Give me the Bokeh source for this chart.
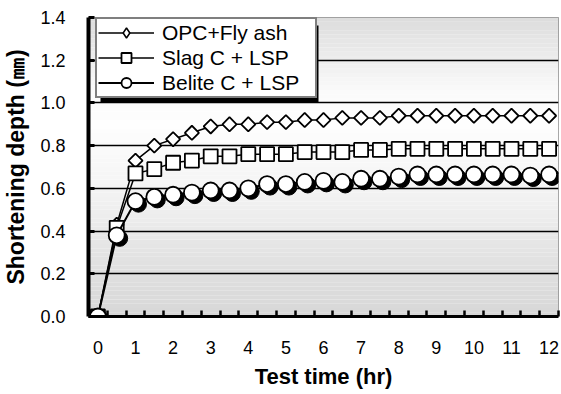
import numpy as np
from bokeh.plotting import figure
from bokeh.models import Range1d, FixedTicker, Legend, LegendItem, BoxAnnotation, ColumnDataSource
from bokeh.embed import file_html
from bokeh.resources import INLINE

# ---------------- data ----------------
time_hr = [0, 0.5, 1, 1.5, 2, 2.5, 3, 3.5, 4, 4.5, 5, 5.5, 6, 6.5, 7, 7.5, 8,
           8.5, 9, 9.5, 10, 10.5, 11, 11.5, 12]
opc_fly_ash = [0, 0.43, 0.73, 0.80, 0.83, 0.86, 0.89, 0.90, 0.90, 0.91, 0.91, 0.92, 0.92,
               0.93, 0.93, 0.93, 0.94, 0.94, 0.94, 0.94, 0.94, 0.94, 0.94, 0.94, 0.94]
slag_lsp = [0, 0.415, 0.67, 0.69, 0.72, 0.73, 0.75, 0.75, 0.76, 0.76, 0.76, 0.77, 0.77,
            0.77, 0.78, 0.78, 0.785, 0.785, 0.785, 0.785, 0.785, 0.785, 0.785, 0.785, 0.785]
belite_lsp = [0, 0.38, 0.54, 0.56, 0.57, 0.58, 0.59, 0.59, 0.60, 0.62, 0.62, 0.63, 0.635,
              0.63, 0.645, 0.645, 0.655, 0.665, 0.665, 0.665, 0.665, 0.665, 0.665, 0.66, 0.665]
series_names = ["OPC+Fly ash", "Slag C + LSP", "Belite C + LSP"]

x_ticks = [0, 1, 2, 3, 4, 5, 6, 7, 8, 9, 10, 11, 12]
x_tick_labels = ["0", "1", "2", "3", "4", "5", "6", "7", "8", "9", "10", "11", "12"]
y_ticks = [0.0, 0.2, 0.4, 0.6, 0.8, 1.0, 1.2, 1.4]
y_tick_labels = ["0.0", "0.2", "0.4", "0.6", "0.8", "1.0", "1.2", "1.4"]

# ---------------- layout ----------------
W, H = 561, 394
L, R, T, B = 86, 3, 17, 78
X0, X1 = -0.25, 12.25
Y0, Y1 = 0.0, 1.4
frame_w = W - L - R
frame_h = H - T - B

p = figure(width=W, height=H, x_range=Range1d(X0, X1), y_range=Range1d(Y0, Y1),
           output_backend="svg", toolbar_location=None,
           min_border_left=L, min_border_right=R, min_border_top=T, min_border_bottom=B)
p.background_fill_color = "white"
p.border_fill_color = "white"
p.outline_line_color = "#8c8c8c"
p.outline_line_width = 1

# gradient background (decorative bands)
edges = np.linspace(Y0, Y1, 71)
mids = (edges[:-1] + edges[1:]) / 2
stop_v = [0.0, 0.3, 0.6, 0.9, 1.05, 1.25, 1.4]
stop_g = [215, 227, 244, 254, 251, 233, 220]
grays = np.interp(mids, stop_v, stop_g).round().astype(int)
band_src = ColumnDataSource(dict(
    bottom=edges[:-1], top=edges[1:],
    color=["#%02x%02x%02x" % (g, g, g) for g in grays]))
p.quad(left=X0, right=X1, bottom="bottom", top="top", fill_color="color",
       line_color=None, source=band_src, level="image")

# grid
p.xgrid.visible = False
p.ygrid.ticker = FixedTicker(ticks=y_ticks[1:-1])
p.ygrid.grid_line_color = "black"
p.ygrid.grid_line_width = 1.5

# x axis
p.xaxis.ticker = FixedTicker(ticks=x_ticks,
                             minor_ticks=[X0 + 0.5 * k for k in range(1, 26)])
p.xaxis.major_label_overrides = {t: s for t, s in zip(x_ticks, x_tick_labels)}
p.xaxis.axis_line_width = 3
p.xaxis.axis_line_color = "black"
p.xaxis.major_tick_in = 0
p.xaxis.major_tick_out = 0
p.xaxis.minor_tick_in = 6
p.xaxis.minor_tick_out = 0
p.xaxis.minor_tick_line_width = 2.5
p.xaxis.minor_tick_line_color = "black"
p.xaxis.major_label_standoff = 24
p.xaxis.axis_label = "Test time (hr)"
p.xaxis.axis_label_standoff = 7

# y axis
p.yaxis.ticker = FixedTicker(ticks=y_ticks)
p.yaxis.major_label_overrides = {t: s for t, s in zip(y_ticks, y_tick_labels)}
p.yaxis.axis_line_width = 4
p.yaxis.axis_line_color = "black"
p.yaxis.major_tick_in = 6
p.yaxis.major_tick_out = 0
p.yaxis.major_tick_line_width = 3
p.yaxis.major_tick_line_color = "black"
p.yaxis.minor_tick_line_color = None
p.yaxis.major_label_standoff = 23
p.yaxis.axis_label = "Shortening depth (㎜)"
p.yaxis.axis_label_standoff = 8

for ax in (p.xaxis, p.yaxis):
    ax.major_label_text_font = "Liberation Sans"
    ax.major_label_text_font_size = "18px"
    ax.major_label_text_color = "black"
    ax.axis_label_text_font = "Liberation Sans"
    ax.axis_label_text_font_style = "bold"
    ax.axis_label_text_color = "black"
p.xaxis.axis_label_text_font_size = "22px"
p.yaxis.axis_label_text_font_size = "23px"

# ---------------- series ----------------
src_opc = ColumnDataSource(dict(t=time_hr, v=opc_fly_ash))
src_slag = ColumnDataSource(dict(t=time_hr, v=slag_lsp))
src_bel = ColumnDataSource(dict(t=time_hr, v=belite_lsp))

r1l = p.line("t", "v", source=src_opc, line_color="black", line_width=1.5)
# plain diamond (used for the legend key; hidden under the rotated square markers)
r1leg = p.scatter("t", "v", source=src_opc, marker="diamond", size=9,
                  fill_color="white", line_color="black", line_width=1.5)
p.scatter("t", "v", source=src_opc, marker="square", angle=np.pi / 4, size=10,
          fill_color="white", line_color="black", line_width=1.8)
r2l = p.line("t", "v", source=src_slag, line_color="black", line_width=1.5)
r2m = p.scatter("t", "v", source=src_slag, marker="square", size=14,
                fill_color="white", line_color="black", line_width=1.8)
r3l = p.line("t", "v", source=src_bel, line_color="black", line_width=2)

# drop shadow of circles, offset 3 px right / 3 px down
dx = 3 * (X1 - X0) / frame_w
dy = 3 * (Y1 - Y0) / frame_h
src_shadow = ColumnDataSource(dict(t=[t + dx for t in time_hr], v=[v - dy for v in belite_lsp]))
p.scatter("t", "v", source=src_shadow, marker="circle", size=16,
          fill_color="black", line_color="black", line_width=1)
r3m = p.scatter("t", "v", source=src_bel, marker="circle", size=16,
                fill_color="white", line_color="black", line_width=1.8)

# ---------------- legend ----------------
shadow = BoxAnnotation(left=12, right=230, bottom=214, top=291,
                       left_units="screen", right_units="screen",
                       bottom_units="screen", top_units="screen",
                       fill_color="black", fill_alpha=1, line_color=None)
p.add_layout(shadow)

legend = Legend(items=[LegendItem(label=series_names[0], renderers=[r1l, r1leg]),
                       LegendItem(label=series_names[1], renderers=[r2l, r2m]),
                       LegendItem(label=series_names[2], renderers=[r3l, r3m])],
                location=(7, 218), padding=1, margin=0, spacing=0,
                glyph_width=56, glyph_height=25, label_height=25, label_width=152,
                label_standoff=8, label_text_font="Liberation Sans",
                label_text_font_size="21px", label_text_color="black",
                border_line_color="black", border_line_width=2,
                background_fill_color="white", background_fill_alpha=1)
p.add_layout(legend, "center")

open("out.html", "w").write(file_html(p, INLINE))
